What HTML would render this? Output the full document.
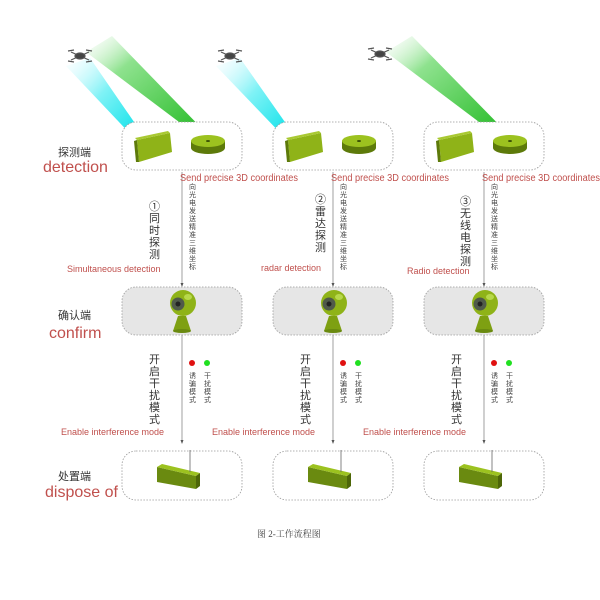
<!DOCTYPE html>
<html><head><meta charset="utf-8"><style>
body{margin:0;background:#fff;}
svg{display:block}
.cn{font-family:"Liberation Sans","Noto Sans CJK SC",sans-serif;}
</style></head><body>
<svg width="600" height="600" viewBox="0 0 600 600" xmlns="http://www.w3.org/2000/svg" class="cn">
<defs>
<linearGradient id="cy" x1="0" y1="0" x2="1" y2="1"><stop offset="0" stop-color="#e8fcff" stop-opacity="0.2"/><stop offset="0.45" stop-color="#7ff2f6"/><stop offset="1" stop-color="#00e0e8"/></linearGradient>
<linearGradient id="gr" x1="0" y1="0" x2="1" y2="1"><stop offset="0" stop-color="#f0fbf0" stop-opacity="0.2"/><stop offset="0.3" stop-color="#8ee28e"/><stop offset="1" stop-color="#1cb81c"/></linearGradient>
<g id="drone" stroke="#555" stroke-width="1.2" fill="#444">
<line x1="-9" y1="-4" x2="9" y2="4"/><line x1="-9" y1="4" x2="9" y2="-4"/>
<ellipse cx="0" cy="0" rx="5" ry="3"/>
<line x1="-12" y1="-5" x2="-6" y2="-6"/><line x1="6" y1="-6" x2="12" y2="-5"/>
<line x1="-12" y1="5" x2="-6" y2="6"/><line x1="6" y1="6" x2="12" y2="5"/>
</g>
<g id="rect">
<polygon points="137,140 170,133 172,152 139,162" fill="#8fb318"/>
<polygon points="137,140 139,162 136,162 134,141" fill="#5d7a0a"/>
<polygon points="137,140 170,133 168,131 135,138" fill="#a9c932"/>
</g>
<g id="disk">
<rect x="191" y="141" width="34" height="7" fill="#5d7a0a"/>
<ellipse cx="208" cy="148" rx="17" ry="6" fill="#5d7a0a"/>
<ellipse cx="208" cy="141" rx="17" ry="6" fill="#9cc21f"/>
<ellipse cx="208" cy="141" rx="2" ry="1" fill="#3d5205"/>
</g>
<g id="head">
<path d="M173 331 Q176 322 178 316 L186 316 Q188 322 191 331 Z" fill="#7ea012"/>
<ellipse cx="182" cy="331" rx="9" ry="2" fill="#6a8a10"/>
<circle cx="183" cy="303" r="13" fill="#8fb318"/>
<circle cx="178" cy="304" r="6.5" fill="#505a4a"/>
<circle cx="178" cy="304" r="2.5" fill="#222"/>
<ellipse cx="188" cy="297" rx="4" ry="3" fill="#b7d84a"/>
</g>
<g id="jam">
<polygon points="157,467 196,476 196,489 157,482" fill="#6a8a10"/>
<polygon points="157,467 196,476 200,473 162,464" fill="#9cc21f"/>
<polygon points="196,476 200,473 200,486 196,489" fill="#4d6608"/>
<line x1="190" y1="472" x2="190" y2="450" stroke="#666" stroke-width="0.8"/>
</g>
<g id="col">
<rect x="122" y="122" width="120" height="48" rx="14" fill="#fff" stroke="#999" stroke-width="0.8" stroke-dasharray="1.5,1.5"/>
<use href="#rect"/><use href="#disk"/>
<line x1="182" y1="172" x2="182" y2="285" stroke="#777" stroke-width="0.7"/>
<polygon points="180.5,283 183.5,283 182,287" fill="#555"/>
<text x="180" y="181" font-size="10" fill="#c0504d" textLength="118" lengthAdjust="spacingAndGlyphs">Send precise 3D coordinates</text>
<text font-size="7" fill="#444"><tspan x="189" y="189">向</tspan><tspan x="189" y="197">光</tspan><tspan x="189" y="205">电</tspan><tspan x="189" y="213">发</tspan><tspan x="189" y="221">送</tspan><tspan x="189" y="229">精</tspan><tspan x="189" y="237">准</tspan><tspan x="189" y="245">三</tspan><tspan x="189" y="253">维</tspan><tspan x="189" y="261">坐</tspan><tspan x="189" y="269">标</tspan></text>
<rect x="122" y="287" width="120" height="48" rx="14" fill="#e6e6e6" stroke="#999" stroke-width="0.8" stroke-dasharray="1.5,1.5"/>
<use href="#head"/>
<line x1="182" y1="335" x2="182" y2="441" stroke="#777" stroke-width="0.7"/>
<polygon points="180.5,440 183.5,440 182,444" fill="#555"/>
<text font-size="11" fill="#333"><tspan x="149" y="363">开</tspan><tspan x="149" y="375">启</tspan><tspan x="149" y="387">干</tspan><tspan x="149" y="399">扰</tspan><tspan x="149" y="411">模</tspan><tspan x="149" y="423">式</tspan></text>
<circle cx="192" cy="363" r="3" fill="#e01010"/><circle cx="207" cy="363" r="3" fill="#20e020"/>
<text font-size="7" fill="#444"><tspan x="189" y="378">诱</tspan><tspan x="189" y="386">骗</tspan><tspan x="189" y="394">模</tspan><tspan x="189" y="402">式</tspan><tspan x="204" y="378">干</tspan><tspan x="204" y="386">扰</tspan><tspan x="204" y="394">模</tspan><tspan x="204" y="402">式</tspan></text>
<text x="61" y="435" font-size="9" fill="#c0504d">Enable interference mode</text>
<rect x="122" y="451" width="120" height="49" rx="14" fill="#fff" stroke="#999" stroke-width="0.8" stroke-dasharray="1.5,1.5"/>
<use href="#jam"/>
</g>
</defs>
<!-- beams -->
<polygon points="66,66 90,58 143,135 136,140" fill="url(#cy)"/>
<polygon points="86,52 112,36 211,138 203,140" fill="url(#gr)"/>
<polygon points="216,66 240,58 294,135 287,140" fill="url(#cy)"/>
<polygon points="386,52 412,36 512,138 503,140" fill="url(#gr)"/>
<use href="#drone" x="80" y="56"/><use href="#drone" x="230" y="56"/><use href="#drone" x="380" y="54"/>
<use href="#col"/>
<use href="#col" x="151"/>
<use href="#col" x="302"/>
<text font-size="11" fill="#333"><tspan x="149" y="210">①</tspan><tspan x="149" y="222">同</tspan><tspan x="149" y="234">时</tspan><tspan x="149" y="246">探</tspan><tspan x="149" y="258">测</tspan></text>
<text x="67" y="272" font-size="9" fill="#c0504d">Simultaneous detection</text>
<text font-size="11" fill="#333"><tspan x="315" y="203">②</tspan><tspan x="315" y="215">雷</tspan><tspan x="315" y="227">达</tspan><tspan x="315" y="239">探</tspan><tspan x="315" y="251">测</tspan></text>
<text x="261" y="271" font-size="9" fill="#c0504d">radar detection</text>
<text font-size="11" fill="#333"><tspan x="460" y="205">③</tspan><tspan x="460" y="217">无</tspan><tspan x="460" y="229">线</tspan><tspan x="460" y="241">电</tspan><tspan x="460" y="253">探</tspan><tspan x="460" y="265">测</tspan></text>
<text x="407" y="274" font-size="9" fill="#c0504d">Radio detection</text>
<text x="58" y="156" font-size="11" fill="#333">探测端</text>
<text x="43" y="172" font-size="16" fill="#c0504d">detection</text>
<text x="58" y="319" font-size="11" fill="#333">确认端</text>
<text x="49" y="338" font-size="16" fill="#c0504d">confirm</text>
<text x="58" y="480" font-size="11" fill="#333">处置端</text>
<text x="45" y="497" font-size="16" fill="#c0504d">dispose of</text>
<text x="257" y="537" font-size="9" fill="#444" font-family="Liberation Serif,Noto Serif CJK SC,serif">图 2-工作流程图</text>
</svg>
</body></html>
